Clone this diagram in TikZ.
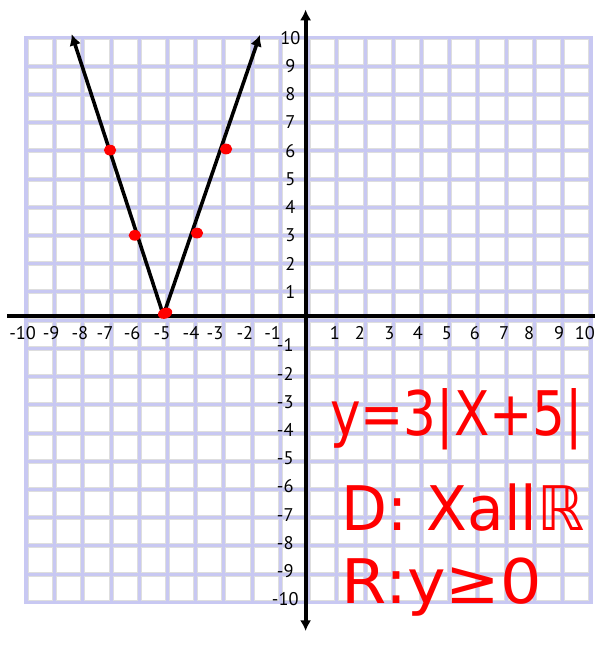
\documentclass[tikz,border=0pt]{standalone}
\usepackage{fontspec}
\usepackage{graphicx}
\newfontfamily\labelfont{PT Sans}
\newfontfamily\handfont{DejaVu Sans}
\usetikzlibrary{arrows.meta,shapes.geometric}
\definecolor{gridlav}{RGB}{200,200,242}
\definecolor{cellgray}{RGB}{222,222,222}
\definecolor{inkred}{RGB}{255,0,0}
\tikzset{
  gridcell/.style={fill=white, draw=cellgray, line width=0.7pt},
  axisline/.style={line width=4pt, black},
  vline/.style={line width=3.6pt, black, -{Latex[length=4mm,width=4.2mm]}},
  ticklabel/.style={font=\labelfont\fontsize{18.5}{18.5}\selectfont, inner sep=0pt},
  reddot/.style={ellipse, fill=inkred, inner sep=0pt, minimum width=4.4mm, minimum height=3.8mm},
  handnote/.style={font=\handfont\fontsize{62}{62}\selectfont, text=inkred, inner sep=0pt, anchor=base west},
}

\begin{document}
\begin{tikzpicture}
  \useasboundingbox (-10.93,-11.80) rectangle (10.15,11.34);
  \fill[white] (-10.93,-11.80) rectangle (10.15,11.34);
  % Raster
  \fill[gridlav] (-10.07,-10.07) rectangle (10.07,10.07);
  \foreach \i in {-10,...,9}
    \foreach \j in {-10,...,9}
      \draw[gridcell] (\i+0.07,\j+0.07) rectangle (\i+0.93,\j+0.93);
  % Achsen
  \coordinate (xleft) at (-10.68,0.145);
  \coordinate (xright) at (10.15,0.145);
  \coordinate (ybot) at (-0.1,-11.02);
  \coordinate (ytop) at (-0.1,11.0);
  \draw[axisline] (xleft) -- (xright);
  \draw[axisline, {Latex[length=3.8mm,width=4mm]}-{Latex[length=3.8mm,width=4mm]}] (ybot) -- (ytop);
  % Beschriftung y
  \foreach \k in {1,...,10}
    \node[ticklabel] (ly\k) at (-0.64,\k) {\k};
  \foreach \k in {1,...,10}
    \node[ticklabel] (lyn\k) at (-0.82,-\k+0.1) {-\k};
  % Beschriftung x
  \foreach \k/\x in {10/-10.13, 9/-9.12, 8/-8.10, 7/-7.21, 6/-6.25,
                     5/-5.19, 4/-4.16, 3/-3.31, 2/-2.25, 1/-1.27}
    \node[ticklabel] (lxn\k) at (\x,-0.46) {-\k};
  \foreach \k/\x in {1/0.94, 2/1.82, 3/2.87, 4/3.88, 5/4.91,
                     6/5.90, 7/6.93, 8/7.82, 9/8.88, 10/9.80}
    \node[ticklabel] (lx\k) at (\x,-0.46) {\k};
  % Graph
  \coordinate (vtx) at (-5.14,0.17);
  \coordinate (ltip) at (-8.39,10.13);
  \coordinate (rtip) at (-1.72,10.1);
  \draw[vline] (vtx) -- (ltip);
  \draw[vline] (vtx) -- (rtip);
  \node[reddot] (pa) at (-7.03,6.02) {};
  \node[reddot] (pb) at (-6.15,3.0) {};
  \node[reddot, minimum width=5.2mm, rotate=20] (pc) at (-5.08,0.24) {};
  \node[reddot] (pd) at (-3.95,3.08) {};
  \node[reddot] (pe) at (-2.92,6.06) {};
  % Notizen
  \node[handnote] (eqn) at (0.76,-4.08) {\scalebox{0.84}[1]{y=3|X+5|}};
  \node[handnote] (dom) at (1.18,-7.45) {\scalebox{0.97}[1]{D: Xallℝ}};
  \node[handnote] (rng) at (1.18,-10.05) {\scalebox{1.06}[1]{R:y≥0}};
\end{tikzpicture}
\end{document}
